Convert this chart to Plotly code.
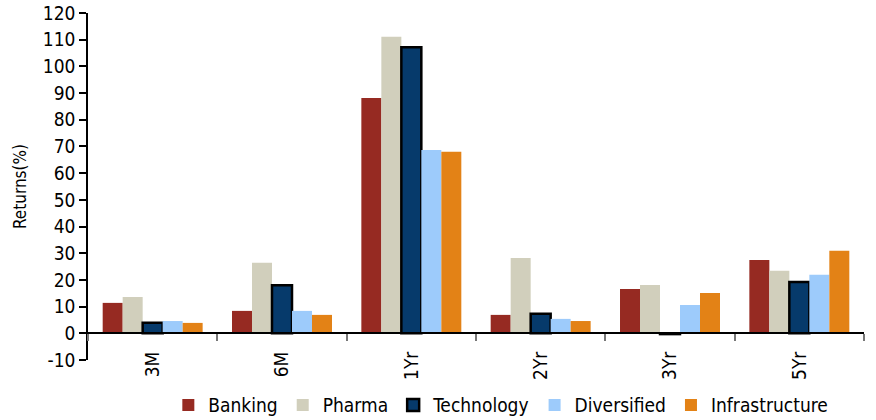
import plotly.graph_objects as go

categories = ["3M", "6M", "1Yr", "2Yr", "3Yr", "5Yr"]
series_names = ["Banking", "Pharma", "Technology", "Diversified", "Infrastructure"]
banking = [11.4, 8.4, 88.2, 6.9, 16.6, 27.5]
pharma = [13.6, 26.4, 111.1, 28.2, 18.1, 23.4]
technology = [4.0, 18.0, 107.2, 7.3, -0.3, 19.2]
diversified = [4.6, 8.4, 68.7, 5.4, 10.6, 21.9]
infrastructure = [3.9, 6.9, 68.0, 4.6, 15.1, 30.9]
y_ticks = list(range(-10, 121, 10))
y_tick_labels = [str(v) for v in y_ticks]

colors = ["#962A22", "#D1CFBC", "#063A6B", "#9DCBFB", "#E38216"]
values = [banking, pharma, technology, diversified, infrastructure]

FONT = "Liberation Sans Narrow, DejaVu Sans Condensed, sans-serif"

fig = go.Figure()
for name, vals, col in zip(series_names, values, colors):
    line = dict(width=2.5, color="black") if name == "Technology" else dict(width=0)
    fig.add_trace(go.Bar(x=categories, y=vals, name=name,
                         marker=dict(color=col, line=line)))

fig.update_layout(
    width=876, height=420,
    margin=dict(l=88, r=12, t=13, b=60, autoexpand=False),
    paper_bgcolor="white", plot_bgcolor="white",
    barmode="group", bargap=0.227, bargroupgap=0,
    font=dict(family=FONT, size=19, color="black"),
    showlegend=True,
    legend=dict(orientation="h", x=0.532, xanchor="center", y=-0.13, yanchor="middle",
                font=dict(size=19), itemwidth=30, tracegroupgap=0),
    xaxis=dict(anchor="free", position=10/130, showline=True, linecolor="black", linewidth=1.5,
               ticks="outside", tickson="boundaries", ticklen=7, tickcolor="#777", tickwidth=1.5,
               tickangle=-90, showgrid=False, zeroline=False, range=[-0.5, 5.5],
               ticklabelstandoff=10, automargin=False, tickfont=dict(size=19)),
    yaxis=dict(range=[-10, 120], tickvals=y_ticks, ticktext=y_tick_labels,
               showline=True, linecolor="black", linewidth=1.5,
               ticks="outside", ticklen=7, tickcolor="black", tickwidth=1.5,
               showgrid=False, zeroline=False, automargin=False, tickfont=dict(size=19),
               title=dict(text="Returns(%)", font=dict(size=17), standoff=12)),
)

fig.write_html("out.html", config={"displayModeBar": False},
               post_script="document.body.style.margin='0';")
